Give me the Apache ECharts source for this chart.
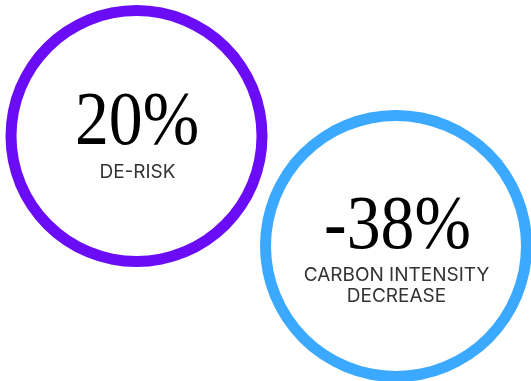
<!DOCTYPE html>
<html>
<head>
<meta charset="utf-8">
<script src="https://cdn.jsdelivr.net/npm/echarts@6/dist/echarts.min.js"></script>
<style>
  html, body { margin: 0; padding: 0; background: #fff; }
  #chart { width: 531px; height: 381px; }
</style>
</head>
<body>
<div id="chart"></div>
<script>
// metric values shown in the rings
const metricValues = [20, -38]
const metricLabels = ['DE-RISK', 'CARBON INTENSITY\nDECREASE']
// share of ring that is filled (full ring for both)
const ringShare = [100, 100]

const ringColors = ['#6a0cf6', '#3aa9ff']
const ringCenters = [[136.5, 136], [396, 246]]
const ringRadius = [[120, 131], [125, 136]]
const valuePos = [[137, 124], [397.5, 227.5]]
const labelPos = [[137.5, 172.5], [396.5, 285.5]]

const chart = echarts.init(document.getElementById('chart'))

const series = metricValues.map(function (v, i) {
  return {
    type: 'pie',
    center: ringCenters[i],
    radius: ringRadius[i],
    silent: true,
    animation: false,
    label: { show: false },
    labelLine: { show: false },
    itemStyle: { color: ringColors[i] },
    data: [{ value: ringShare[i], name: metricLabels[i] }]
  }
})

const texts = []
metricValues.forEach(function (v, i) {
  texts.push({
    type: 'text',
    x: valuePos[i][0],
    y: valuePos[i][1],
    scaleX: 0.88,
    style: {
      text: v + '%',
      fontFamily: 'Liberation Serif',
      fontSize: 77,
      fill: '#000',
      textAlign: 'center',
      textVerticalAlign: 'middle'
    }
  })
  texts.push({
    type: 'text',
    x: labelPos[i][0],
    y: labelPos[i][1],
    style: {
      text: metricLabels[i],
      fontFamily: 'Inter',
      fontSize: 19,
      lineHeight: 21,
      fill: '#333',
      textAlign: 'center',
      textVerticalAlign: 'middle'
    }
  })
})

chart.setOption({
  backgroundColor: '#fff',
  series: series,
  graphic: texts
})
</script>
</body>
</html>
